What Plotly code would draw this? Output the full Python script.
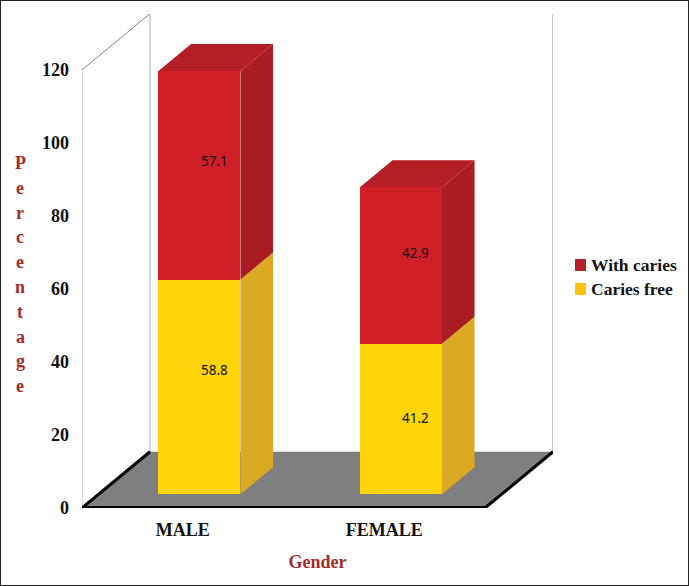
import plotly.graph_objects as go

categories = ["MALE", "FEMALE"]
cat_pos = [0.5, 1.5]
caries_free = [58.8, 41.2]
with_caries = [57.1, 42.9]
y_ticks = [0, 20, 40, 60, 80, 100, 120]
legend_names = ["With caries", "Caries free"]
legend_colors = ["#b5202a", "#ffc20e"]

# fake 3D: depth 1 = full floor depth, sheared right and up
DX = 0.3375
DY = 15.4
BAR_HALF = 0.2035
D_FRONT = 0.245
D_BACK = 0.725

RED, RED_SIDE, RED_TOP = "#d01f26", "#a81c22", "#b31f24"
YEL, YEL_SIDE = "#ffd408", "#dcaa22"
TITLE_RED = "#a52a2a"
SERIF = "Liberation Serif"

# plot area inside the 689x586 page
M_L, M_R, M_T, M_B = 82, 136, 14, 78
PW, PH = 689 - M_L - M_R, 586 - M_T - M_B


def px_x(p):
    return (p - M_L) / PW


def px_y(p):
    return 1 - (p - M_T) / PH


def proj(x, v, d):
    return x + d * DX, v + d * DY


def face(points, color):
    xy = [proj(*p) for p in points]
    xy.append(xy[0])
    return go.Scatter(
        x=[p[0] for p in xy], y=[p[1] for p in xy], mode="lines",
        fill="toself", fillcolor=color, line=dict(width=0, color=color),
        showlegend=False, hoverinfo="skip",
    )


def seg(a, b, color, width):
    (x0, y0), (x1, y1) = proj(*a), proj(*b)
    return dict(type="line", xref="x", yref="y", x0=x0, y0=y0, x1=x1, y1=y1,
                layer="below", line=dict(color=color, width=width))


fig = go.Figure()

centers = [c + D_FRONT * DX for c in cat_pos]
base = D_FRONT * DY
fig.add_trace(go.Bar(x=centers, y=caries_free, base=base, width=BAR_HALF * 2,
                     marker=dict(color=YEL, line_width=0), showlegend=False, hoverinfo="skip"))
fig.add_trace(go.Bar(x=centers, y=with_caries, base=[base + f for f in caries_free], width=BAR_HALF * 2,
                     marker=dict(color=RED, line_width=0), showlegend=False, hoverinfo="skip"))

annotations = []
label_shift = [[17, 14], [1, 12]]
for i, c in enumerate(cat_pos):
    r = c + BAR_HALF
    l = c - BAR_HALF
    f = caries_free[i]
    t = f + with_caries[i]
    fig.add_trace(face([(r, 0, D_FRONT), (r, 0, D_BACK), (r, f, D_BACK), (r, f, D_FRONT)], YEL_SIDE))
    fig.add_trace(face([(r, f, D_FRONT), (r, f, D_BACK), (r, t, D_BACK), (r, t, D_FRONT)], RED_SIDE))
    fig.add_trace(face([(l, t, D_FRONT), (r, t, D_FRONT), (r, t, D_BACK), (l, t, D_BACK)], RED_TOP))
    for val, mid, shift in [(f, f / 2, label_shift[i][0]), (with_caries[i], f + with_caries[i] / 2, label_shift[i][1])]:
        annotations.append(dict(
            x=centers[i], y=base + mid, xref="x", yref="y", text=str(val), showarrow=False,
            xshift=15, yshift=shift, font=dict(family="Noto Sans", size=13.5, color="#111111"),
        ))

# floor and walls
fx = [proj(*p) for p in [(0, 0, 0), (2, 0, 0), (2, 0, 1), (0, 0, 1)]]
floor_path = "M " + " L ".join(f"{x},{y}" for x, y in fx) + " Z"
shapes = [
    dict(type="path", path=floor_path, xref="x", yref="y", layer="below",
         fillcolor="#7f7f7f", line_width=0),
    seg((0, 0, 0), (0, 120, 0), "#c8c8c8", 1.5),
    seg((0, 0, 1), (0, 120, 1), "#c8c8c8", 1.5),
    seg((2, 0, 1), (2, 120, 1), "#b4b4b4", 1.5),
    seg((0, 120, 0), (0, 120, 1), "#808080", 1),
    seg((0, 0, 0), (2, 0, 0), "#000000", 4),
    seg((0, 0, 0), (0, 0, 1), "#000000", 3),
    seg((2, 0, 0), (2, 0, 1), "#000000", 3),
    # image border
    dict(type="rect", xref="paper", yref="paper", x0=px_x(0), x1=px_x(689), y0=px_y(586), y1=px_y(0),
         line=dict(color="#222222", width=2), layer="below"),
]

# stacked letters of the y title
for n, ch in enumerate("Percentage"):
    annotations.append(dict(
        x=px_x(20), y=px_y(163 + n * 24.8), xref="paper", yref="paper", text=ch,
        xanchor="center", yanchor="middle", showarrow=False,
        font=dict(family=SERIF, size=18, color=TITLE_RED, weight=700),
    ))

# legend drawn by hand, the swatch sits closer to the text than plotly's legend allows
for n, (name, col) in enumerate(zip(legend_names, legend_colors)):
    cy = 265 + n * 24
    shapes.append(dict(type="rect", xref="paper", yref="paper", x0=px_x(575), x1=px_x(586),
                       y0=px_y(cy + 6), y1=px_y(cy - 6), fillcolor=col, line_width=0))
    annotations.append(dict(
        x=px_x(589), y=px_y(cy), xref="paper", yref="paper", text=name,
        xanchor="left", yanchor="middle", showarrow=False,
        font=dict(family=SERIF, size=17.5, color="#111111", weight=700),
    ))

fig.update_layout(
    width=689, height=586,
    margin=dict(l=M_L, r=M_R, t=M_T, b=M_B, autoexpand=False),
    paper_bgcolor="white", plot_bgcolor="white",
    barmode="overlay", bargap=0,
    shapes=shapes, annotations=annotations,
    showlegend=False,
    xaxis=dict(
        range=[0, 2 + DX], tickmode="array", tickvals=cat_pos, ticktext=categories,
        showgrid=False, zeroline=False, showline=False, ticks="",
        tickfont=dict(family=SERIF, size=18, color="#111111", weight=700),
        ticklabelstandoff=9,
        title=dict(text="Gender", font=dict(family=SERIF, size=18, color=TITLE_RED, weight=700), standoff=16),
    ),
    yaxis=dict(
        range=[0, 135.3], tickmode="array", tickvals=y_ticks,
        showgrid=False, zeroline=False, showline=False, ticks="",
        tickfont=dict(family=SERIF, size=18, color="#111111", weight=700),
        ticklabelstandoff=12,
    ),
    hovermode=False,
)

fig.write_html("out.html", config={"displayModeBar": False},
               post_script="document.body.style.margin='0';document.body.style.overflow='hidden';")
